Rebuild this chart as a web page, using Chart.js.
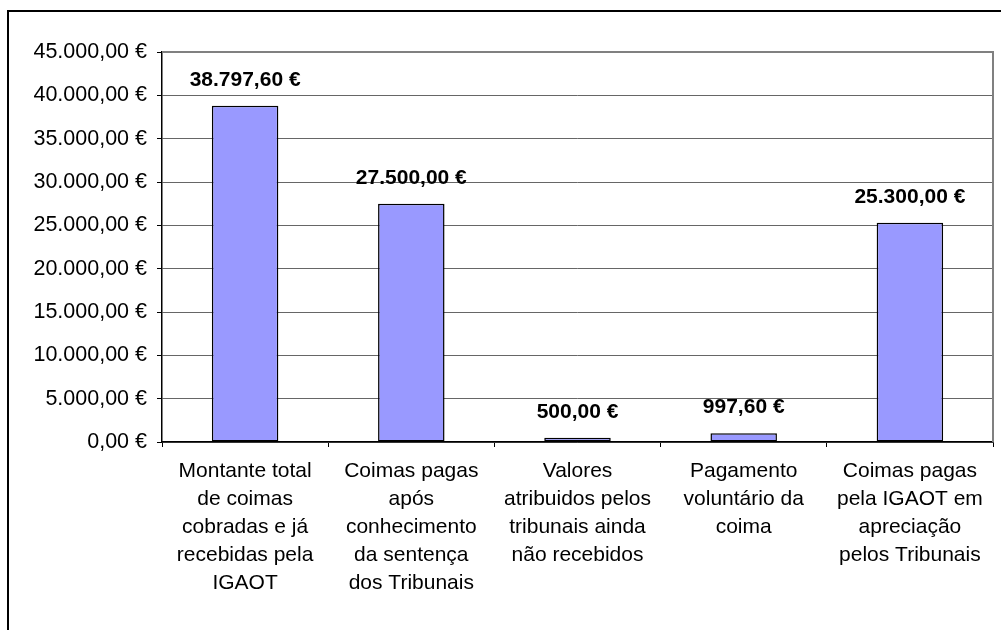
<!DOCTYPE html>
<html>
<head>
<meta charset="utf-8">
<script src="https://cdn.jsdelivr.net/npm/chart.js@4"></script>
<style>
  html, body { margin: 0; padding: 0; background: #fff; }
  #wrap { width: 1001px; height: 630px; position: relative; }
</style>
</head>
<body>
<div id="wrap"><canvas id="bar-chart"></canvas></div>
<script>
// categorias (rótulos do eixo X, em várias linhas)
const categories = [
  ["Montante total", "de coimas", "cobradas e já", "recebidas pela", "IGAOT"],
  ["Coimas pagas", "após", "conhecimento", "da sentença", "dos Tribunais"],
  ["Valores", "atribuidos pelos", "tribunais ainda", "não recebidos"],
  ["Pagamento", "voluntário da", "coima"],
  ["Coimas pagas", "pela IGAOT em", "apreciação", "pelos Tribunais"]
];
const values = [38797.60, 27500.00, 500.00, 997.60, 25300.00];
const yTicks = [0, 5000, 10000, 15000, 20000, 25000, 30000, 35000, 40000, 45000];

function euro(v) {
  const parts = Number(v).toFixed(2).split(".");
  const int = parts[0].replace(/\B(?=(\d{3})+(?!\d))/g, ".");
  return int + "," + parts[1] + " €";
}

const FONT = "'Liberation Sans', Arial, sans-serif";

// moldura do gráfico, borda da área de plotagem e rótulos dos valores
const extras = {
  id: "extras",
  beforeDraw(chart) {
    const ctx = chart.ctx;
    ctx.save();
    ctx.strokeStyle = "#000";
    ctx.lineWidth = 2;
    ctx.beginPath();
    ctx.moveTo(8, 630);
    ctx.lineTo(8, 11);
    ctx.lineTo(1001, 11);
    ctx.stroke();
    ctx.restore();
  },
  afterDraw(chart) {
    const ctx = chart.ctx;
    const a = chart.chartArea;
    ctx.save();
    ctx.strokeStyle = "#808080";
    ctx.lineWidth = 2;
    ctx.beginPath();
    ctx.moveTo(a.left, a.top);
    ctx.lineTo(a.right, a.top);
    ctx.lineTo(a.right, a.bottom);
    ctx.stroke();
    ctx.fillStyle = "#000";
    ctx.font = "bold 21px " + FONT;
    ctx.textAlign = "center";
    ctx.textBaseline = "alphabetic";
    chart.getDatasetMeta(0).data.forEach((bar, i) => {
      ctx.fillText(euro(values[i]), bar.x, bar.y - 20);
    });
    ctx.restore();
  }
};

new Chart(document.getElementById("bar-chart"), {
  type: "bar",
  data: {
    labels: categories,
    datasets: [
      {
        data: values,
        backgroundColor: "#9999FF",
        borderColor: "#000",
        borderWidth: 1.5,
        borderSkipped: false,
        categoryPercentage: 1,
        barPercentage: 0.4
      }
    ]
  },
  options: {
    responsive: true,
    maintainAspectRatio: false,
    animation: false,
    layout: { padding: { top: 52, right: 8, left: 0, bottom: 0 } },
    plugins: {
      legend: { display: false },
      title: { display: false },
      tooltip: { enabled: false }
    },
    scales: {
      x: {
        offset: true,
        grid: {
          offset: true,
          drawOnChartArea: false,
          drawTicks: true,
          tickLength: 5,
          tickColor: "#000"
        },
        border: { color: "#000", width: 1.5 },
        ticks: {
          color: "#000",
          font: { family: FONT, size: 21, lineHeight: 1.333 },
          padding: 10,
          maxRotation: 0,
          autoSkip: false
        },
        afterFit(scale) { scale.height = 188; }
      },
      y: {
        min: 0,
        max: 45000,
        afterBuildTicks(scale) {
          scale.ticks = yTicks.map(v => ({ value: v }));
        },
        grid: {
          color: "#666",
          lineWidth: 1,
          tickLength: 5,
          tickColor: "#000"
        },
        border: { color: "#000", width: 1.5 },
        ticks: {
          color: "#000",
          font: { family: FONT, size: 21.5 },
          padding: 10,
          callback: v => euro(v)
        },
        afterFit(scale) { scale.width = 162; }
      }
    }
  },
  plugins: [extras]
});
</script>
</body>
</html>
